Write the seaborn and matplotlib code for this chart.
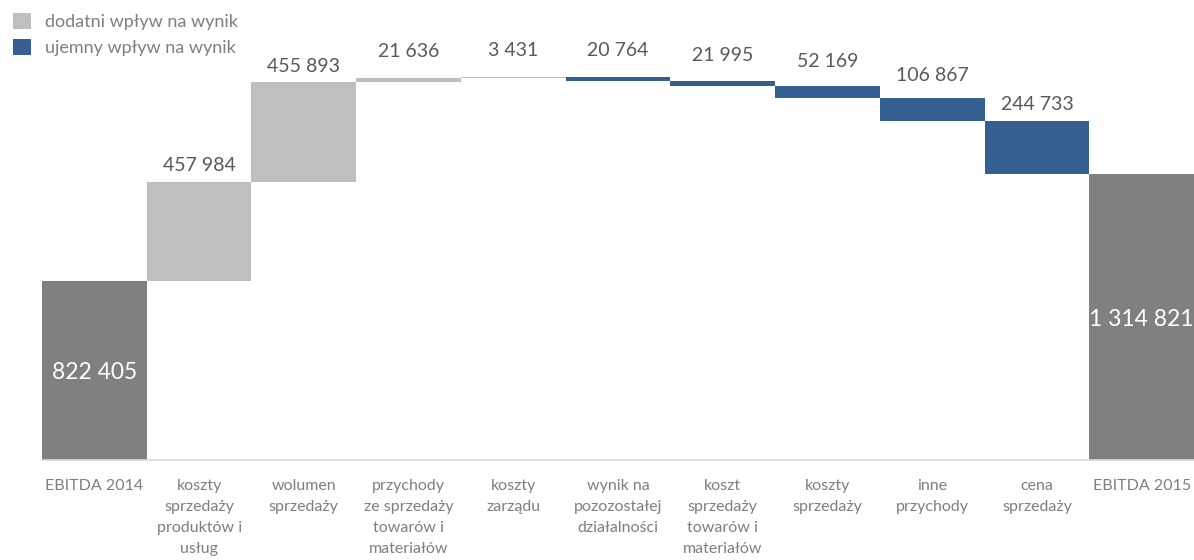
import numpy as np
import pandas as pd
import matplotlib
matplotlib.use("Agg")
import matplotlib.pyplot as plt
from matplotlib.patches import Patch
import seaborn as sns

# Waterfall data: EBITDA 2014 -> EBITDA 2015
categories = [
    "EBITDA 2014",
    "koszty\nsprzedaży\nproduktów i\nusług",
    "wolumen\nsprzedaży",
    "przychody\nze sprzedaży\ntowarów i\nmateriałów",
    "koszty\nzarządu",
    "wynik na\npozozostałej\ndziałalności",
    "koszt\nsprzedaży\ntowarów i\nmateriałów",
    "koszty\nsprzedaży",
    "inne\nprzychody",
    "cena\nsprzedaży",
    "EBITDA 2015",
]
start_value = 822405
changes = [457984, 455893, 21636, 3431, -20764, -21995, -52169, -106867, -244733]
end_value = 1314821

legend_labels = ["dodatni wpływ na wynik", "ujemny wpływ na wynik"]

COL_TOTAL = "#808080"
COL_POS = "#BFBFBF"
COL_NEG = "#365F91"
COL_LABEL = "#595959"
COL_TICK = "#7F7F7F"

sns.set_theme(style="white")
plt.rcParams["font.family"] = ["Lato", "DejaVu Sans"]

# build the waterfall table
rows = [{"cat": categories[0], "bottom": 0, "height": start_value, "kind": "total", "value": start_value}]
level = start_value
for cat, ch in zip(categories[1:-1], changes):
    if ch >= 0:
        rows.append({"cat": cat, "bottom": level, "height": ch, "kind": "pos", "value": ch})
    else:
        rows.append({"cat": cat, "bottom": level + ch, "height": -ch, "kind": "neg", "value": -ch})
    level += ch
rows.append({"cat": categories[-1], "bottom": 0, "height": end_value, "kind": "total", "value": end_value})
df = pd.DataFrame(rows)
colors = {"total": COL_TOTAL, "pos": COL_POS, "neg": COL_NEG}

fig = plt.figure(figsize=(11.94, 5.6), dpi=100)
ax = fig.add_axes([42 / 1194, 1 - 460 / 560, 1152 / 1194, 460 / 560])

x = np.arange(len(df))
ax.bar(x, df["height"], bottom=df["bottom"], width=1.0,
       color=[colors[k] for k in df["kind"]], linewidth=0)

ax.set_xlim(-0.5, len(df) - 0.5)
ax.set_ylim(0, 2115000)

# value labels
px_per_unit = 460 / 2115000
for i, r in df.iterrows():
    txt = f"{r['value']:,}".replace(",", " ")
    if r["kind"] == "total":
        ax.text(i, r["height"] / 2 - 10000, txt, ha="center", va="center",
                color="white", fontsize=16.5)
    else:
        h_px = r["height"] * px_per_unit
        off_px = 27 - 11 * min(1.0, h_px / 50)
        ax.annotate(txt, (i, r["bottom"] + r["height"]), xytext=(0, off_px * 0.72),
                    textcoords="offset points", ha="center", va="center",
                    color=COL_LABEL, fontsize=14)

ax.set_xticks(x)
ax.set_xticklabels(df["cat"], fontsize=11.5, color=COL_TICK, linespacing=1.62,
                   va="top")
ax.tick_params(axis="x", length=0, pad=14)
ax.set_yticks([])
ax.set_xlabel("")
ax.set_ylabel("")
sns.despine(ax=ax, left=True, top=True, right=True)
ax.spines["bottom"].set_color("#D9D9D9")
ax.spines["bottom"].set_linewidth(1.2)
ax.set_facecolor("white")

handles = [Patch(facecolor=COL_POS, edgecolor="none"),
           Patch(facecolor=COL_NEG, edgecolor="none")]
fig.legend(handles, legend_labels, loc="upper left",
           bbox_to_anchor=(6 / 1194, 1 - 6 / 560), frameon=False,
           fontsize=13, labelcolor=COL_TICK, handlelength=1.0,
           handleheight=1.0, handletextpad=0.75, labelspacing=0.45,
           borderpad=0.4, borderaxespad=0)

fig.savefig("out.png", dpi=100, facecolor="white")
